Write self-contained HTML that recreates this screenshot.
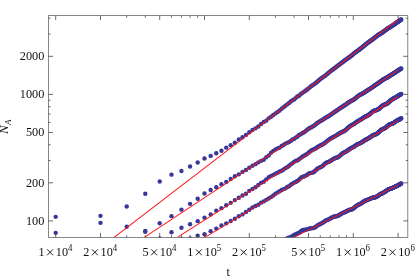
<!DOCTYPE html>
<html><head><meta charset="utf-8"><style>html,body{margin:0;padding:0;background:#fff}svg{display:block;will-change:transform}</style></head><body>
<svg width="415" height="278" viewBox="0 0 415 278">
<rect width="415" height="278" fill="#fff"/>
<defs><clipPath id="c"><rect x="48.5" y="15.6" width="359.3" height="221.8"/></clipPath></defs>
<g clip-path="url(#c)" fill="#37379a">
<circle cx="55.70" cy="216.85" r="2.2"/>
<circle cx="100.49" cy="215.85" r="2.2"/>
<circle cx="126.70" cy="206.55" r="2.2"/>
<circle cx="145.29" cy="193.75" r="2.2"/>
<circle cx="159.71" cy="181.45" r="2.2"/>
<circle cx="171.49" cy="174.65" r="2.2"/>
<circle cx="181.45" cy="171.05" r="2.2"/>
<circle cx="190.08" cy="166.55" r="2.2"/>
<circle cx="197.69" cy="162.55" r="2.2"/>
<circle cx="204.50" cy="158.45" r="2.2"/>
<circle cx="210.66" cy="155.91" r="2.2"/>
<circle cx="216.28" cy="153.19" r="2.2"/>
<circle cx="221.45" cy="150.74" r="2.2"/>
<circle cx="226.24" cy="147.65" r="2.2"/>
<circle cx="230.70" cy="145.15" r="2.2"/>
<circle cx="234.87" cy="142.70" r="2.2"/>
<circle cx="238.79" cy="139.51" r="2.2"/>
<circle cx="242.48" cy="137.20" r="2.2"/>
<circle cx="245.98" cy="134.89" r="2.2"/>
<circle cx="249.29" cy="132.28" r="2.2"/>
<circle cx="252.45" cy="130.05" r="2.2"/>
<circle cx="255.45" cy="128.35" r="2.2"/>
<circle cx="258.33" cy="126.46" r="2.2"/>
<circle cx="261.08" cy="123.97" r="2.2"/>
<circle cx="263.71" cy="121.94" r="2.2"/>
<circle cx="266.25" cy="120.64" r="2.2"/>
<circle cx="268.69" cy="118.36" r="2.2"/>
<circle cx="271.04" cy="116.78" r="2.2"/>
<circle cx="273.30" cy="115.06" r="2.2"/>
<circle cx="275.50" cy="113.38" r="2.2"/>
<circle cx="277.61" cy="111.96" r="2.2"/>
<circle cx="279.67" cy="110.47" r="2.2"/>
<circle cx="281.65" cy="108.77" r="2.2"/>
<circle cx="283.58" cy="107.31" r="2.2"/>
<circle cx="285.46" cy="105.82" r="2.2"/>
<circle cx="287.28" cy="104.37" r="2.2"/>
<circle cx="289.05" cy="102.96" r="2.2"/>
<circle cx="290.77" cy="101.51" r="2.2"/>
<circle cx="292.45" cy="100.20" r="2.2"/>
<circle cx="294.09" cy="99.39" r="2.2"/>
<circle cx="295.68" cy="98.08" r="2.2"/>
<circle cx="297.24" cy="96.57" r="2.2"/>
<circle cx="298.76" cy="96.02" r="2.2"/>
<circle cx="300.25" cy="94.57" r="2.2"/>
<circle cx="301.70" cy="93.41" r="2.2"/>
<circle cx="303.12" cy="92.35" r="2.2"/>
<circle cx="304.51" cy="91.40" r="2.2"/>
<circle cx="305.87" cy="90.47" r="2.2"/>
<circle cx="307.20" cy="89.48" r="2.2"/>
<circle cx="308.51" cy="88.42" r="2.2"/>
<circle cx="309.79" cy="87.33" r="2.2"/>
<circle cx="311.04" cy="86.31" r="2.2"/>
<circle cx="312.27" cy="85.40" r="2.2"/>
<circle cx="313.48" cy="84.59" r="2.2"/>
<circle cx="314.67" cy="83.80" r="2.2"/>
<circle cx="315.83" cy="82.96" r="2.2"/>
<circle cx="316.97" cy="82.03" r="2.2"/>
<circle cx="318.10" cy="81.03" r="2.2"/>
<circle cx="319.20" cy="80.04" r="2.2"/>
<circle cx="320.29" cy="79.11" r="2.2"/>
<circle cx="321.36" cy="78.29" r="2.2"/>
<circle cx="322.41" cy="77.56" r="2.2"/>
<circle cx="323.44" cy="76.87" r="2.2"/>
<circle cx="324.46" cy="76.16" r="2.2"/>
<circle cx="325.46" cy="75.40" r="2.2"/>
<circle cx="326.45" cy="74.58" r="2.2"/>
<circle cx="327.42" cy="73.73" r="2.2"/>
<circle cx="328.38" cy="72.90" r="2.2"/>
<circle cx="329.32" cy="72.10" r="2.2"/>
<circle cx="330.25" cy="71.37" r="2.2"/>
<circle cx="331.17" cy="70.69" r="2.2"/>
<circle cx="332.07" cy="70.04" r="2.2"/>
<circle cx="332.96" cy="69.41" r="2.2"/>
<circle cx="333.84" cy="68.78" r="2.2"/>
<circle cx="334.71" cy="68.12" r="2.2"/>
<circle cx="335.57" cy="67.46" r="2.2"/>
<circle cx="336.41" cy="66.79" r="2.2"/>
<circle cx="337.24" cy="66.13" r="2.2"/>
<circle cx="338.07" cy="65.50" r="2.2"/>
<circle cx="338.88" cy="64.89" r="2.2"/>
<circle cx="339.68" cy="64.30" r="2.2"/>
<circle cx="340.48" cy="63.72" r="2.2"/>
<circle cx="341.26" cy="63.14" r="2.2"/>
<circle cx="342.03" cy="62.56" r="2.2"/>
<circle cx="342.80" cy="61.97" r="2.2"/>
<circle cx="343.55" cy="61.39" r="2.2"/>
<circle cx="344.30" cy="60.81" r="2.2"/>
<circle cx="345.04" cy="60.24" r="2.2"/>
<circle cx="345.77" cy="59.69" r="2.2"/>
<circle cx="346.49" cy="59.17" r="2.2"/>
<circle cx="347.21" cy="58.67" r="2.2"/>
<circle cx="347.91" cy="58.18" r="2.2"/>
<circle cx="348.61" cy="57.70" r="2.2"/>
<circle cx="349.30" cy="57.22" r="2.2"/>
<circle cx="349.99" cy="56.72" r="2.2"/>
<circle cx="350.66" cy="56.21" r="2.2"/>
<circle cx="351.33" cy="55.68" r="2.2"/>
<circle cx="351.99" cy="55.15" r="2.2"/>
<circle cx="352.65" cy="54.60" r="2.2"/>
<circle cx="353.30" cy="54.07" r="2.2"/>
<circle cx="353.94" cy="53.54" r="2.2"/>
<circle cx="354.58" cy="53.03" r="2.2"/>
<circle cx="355.21" cy="52.54" r="2.2"/>
<circle cx="355.83" cy="52.07" r="2.2"/>
<circle cx="356.45" cy="51.62" r="2.2"/>
<circle cx="357.07" cy="51.18" r="2.2"/>
<circle cx="357.67" cy="50.75" r="2.2"/>
<circle cx="358.27" cy="50.33" r="2.2"/>
<circle cx="358.87" cy="49.90" r="2.2"/>
<circle cx="359.46" cy="49.46" r="2.2"/>
<circle cx="360.04" cy="49.02" r="2.2"/>
<circle cx="360.62" cy="48.57" r="2.2"/>
<circle cx="361.20" cy="48.11" r="2.2"/>
<circle cx="361.77" cy="47.65" r="2.2"/>
<circle cx="362.33" cy="47.18" r="2.2"/>
<circle cx="362.89" cy="46.72" r="2.2"/>
<circle cx="363.45" cy="46.25" r="2.2"/>
<circle cx="364.00" cy="45.79" r="2.2"/>
<circle cx="364.54" cy="45.34" r="2.2"/>
<circle cx="365.08" cy="44.89" r="2.2"/>
<circle cx="365.62" cy="44.46" r="2.2"/>
<circle cx="366.15" cy="44.03" r="2.2"/>
<circle cx="366.68" cy="43.61" r="2.2"/>
<circle cx="367.20" cy="43.21" r="2.2"/>
<circle cx="367.72" cy="42.81" r="2.2"/>
<circle cx="368.24" cy="42.43" r="2.2"/>
<circle cx="368.75" cy="42.06" r="2.2"/>
<circle cx="369.25" cy="41.69" r="2.2"/>
<circle cx="369.76" cy="41.34" r="2.2"/>
<circle cx="370.25" cy="40.99" r="2.2"/>
<circle cx="370.75" cy="40.64" r="2.2"/>
<circle cx="371.24" cy="40.30" r="2.2"/>
<circle cx="371.73" cy="39.95" r="2.2"/>
<circle cx="372.21" cy="39.60" r="2.2"/>
<circle cx="372.69" cy="39.24" r="2.2"/>
<circle cx="373.17" cy="38.88" r="2.2"/>
<circle cx="373.64" cy="38.52" r="2.2"/>
<circle cx="374.11" cy="38.15" r="2.2"/>
<circle cx="374.58" cy="37.77" r="2.2"/>
<circle cx="375.04" cy="37.40" r="2.2"/>
<circle cx="375.50" cy="37.03" r="2.2"/>
<circle cx="375.96" cy="36.66" r="2.2"/>
<circle cx="376.41" cy="36.31" r="2.2"/>
<circle cx="376.86" cy="35.96" r="2.2"/>
<circle cx="377.31" cy="35.63" r="2.2"/>
<circle cx="377.76" cy="35.31" r="2.2"/>
<circle cx="378.20" cy="35.00" r="2.2"/>
<circle cx="378.63" cy="34.72" r="2.2"/>
<circle cx="379.07" cy="34.44" r="2.2"/>
<circle cx="379.50" cy="34.18" r="2.2"/>
<circle cx="379.93" cy="33.92" r="2.2"/>
<circle cx="380.36" cy="33.67" r="2.2"/>
<circle cx="380.78" cy="33.42" r="2.2"/>
<circle cx="381.20" cy="33.17" r="2.2"/>
<circle cx="381.62" cy="32.92" r="2.2"/>
<circle cx="382.04" cy="32.66" r="2.2"/>
<circle cx="382.45" cy="32.39" r="2.2"/>
<circle cx="382.86" cy="32.11" r="2.2"/>
<circle cx="383.27" cy="31.82" r="2.2"/>
<circle cx="383.67" cy="31.52" r="2.2"/>
<circle cx="384.08" cy="31.22" r="2.2"/>
<circle cx="384.48" cy="30.91" r="2.2"/>
<circle cx="384.87" cy="30.60" r="2.2"/>
<circle cx="385.27" cy="30.29" r="2.2"/>
<circle cx="385.66" cy="29.98" r="2.2"/>
<circle cx="386.05" cy="29.68" r="2.2"/>
<circle cx="386.44" cy="29.39" r="2.2"/>
<circle cx="386.83" cy="29.10" r="2.2"/>
<circle cx="387.21" cy="28.83" r="2.2"/>
<circle cx="387.59" cy="28.57" r="2.2"/>
<circle cx="387.97" cy="28.32" r="2.2"/>
<circle cx="388.35" cy="28.09" r="2.2"/>
<circle cx="388.72" cy="27.86" r="2.2"/>
<circle cx="389.09" cy="27.64" r="2.2"/>
<circle cx="389.46" cy="27.42" r="2.2"/>
<circle cx="389.83" cy="27.21" r="2.2"/>
<circle cx="390.20" cy="27.00" r="2.2"/>
<circle cx="390.56" cy="26.79" r="2.2"/>
<circle cx="390.92" cy="26.58" r="2.2"/>
<circle cx="391.28" cy="26.36" r="2.2"/>
<circle cx="391.64" cy="26.13" r="2.2"/>
<circle cx="392.00" cy="25.90" r="2.2"/>
<circle cx="392.35" cy="25.66" r="2.2"/>
<circle cx="392.70" cy="25.41" r="2.2"/>
<circle cx="393.06" cy="25.16" r="2.2"/>
<circle cx="393.40" cy="24.91" r="2.2"/>
<circle cx="393.75" cy="24.65" r="2.2"/>
<circle cx="394.09" cy="24.40" r="2.2"/>
<circle cx="394.44" cy="24.15" r="2.2"/>
<circle cx="394.78" cy="23.91" r="2.2"/>
<circle cx="395.12" cy="23.66" r="2.2"/>
<circle cx="395.46" cy="23.42" r="2.2"/>
<circle cx="395.79" cy="23.19" r="2.2"/>
<circle cx="396.12" cy="22.96" r="2.2"/>
<circle cx="396.46" cy="22.73" r="2.2"/>
<circle cx="396.79" cy="22.51" r="2.2"/>
<circle cx="397.12" cy="22.29" r="2.2"/>
<circle cx="397.44" cy="22.07" r="2.2"/>
<circle cx="397.77" cy="21.86" r="2.2"/>
<circle cx="398.09" cy="21.64" r="2.2"/>
<circle cx="398.42" cy="21.43" r="2.2"/>
<circle cx="398.74" cy="21.22" r="2.2"/>
<circle cx="399.06" cy="21.01" r="2.2"/>
<circle cx="399.37" cy="20.80" r="2.2"/>
<circle cx="399.69" cy="20.58" r="2.2"/>
<circle cx="400.00" cy="20.37" r="2.2"/>
<circle cx="400.32" cy="20.16" r="2.2"/>
<circle cx="400.63" cy="19.95" r="2.2"/>
<circle cx="400.94" cy="19.74" r="2.2"/>
<circle cx="401.25" cy="19.51" r="2.2"/>
<circle cx="55.70" cy="232.85" r="2.2"/>
<circle cx="100.49" cy="222.85" r="2.2"/>
<circle cx="126.70" cy="226.75" r="2.2"/>
<circle cx="145.29" cy="231.05" r="2.2"/>
<circle cx="159.71" cy="223.25" r="2.2"/>
<circle cx="171.49" cy="216.15" r="2.2"/>
<circle cx="181.45" cy="209.65" r="2.2"/>
<circle cx="190.08" cy="203.85" r="2.2"/>
<circle cx="197.69" cy="198.75" r="2.2"/>
<circle cx="204.50" cy="193.45" r="2.2"/>
<circle cx="210.66" cy="189.98" r="2.2"/>
<circle cx="216.28" cy="187.23" r="2.2"/>
<circle cx="221.45" cy="184.20" r="2.2"/>
<circle cx="226.24" cy="181.90" r="2.2"/>
<circle cx="230.70" cy="178.90" r="2.2"/>
<circle cx="234.87" cy="176.28" r="2.2"/>
<circle cx="238.79" cy="174.36" r="2.2"/>
<circle cx="242.48" cy="171.88" r="2.2"/>
<circle cx="245.98" cy="170.03" r="2.2"/>
<circle cx="249.29" cy="167.69" r="2.2"/>
<circle cx="252.45" cy="165.78" r="2.2"/>
<circle cx="255.45" cy="164.17" r="2.2"/>
<circle cx="258.33" cy="162.37" r="2.2"/>
<circle cx="261.08" cy="160.83" r="2.2"/>
<circle cx="263.71" cy="159.75" r="2.2"/>
<circle cx="266.25" cy="157.28" r="2.2"/>
<circle cx="268.69" cy="155.40" r="2.2"/>
<circle cx="271.04" cy="152.81" r="2.2"/>
<circle cx="273.30" cy="150.83" r="2.2"/>
<circle cx="275.50" cy="149.49" r="2.2"/>
<circle cx="277.61" cy="148.42" r="2.2"/>
<circle cx="279.67" cy="147.60" r="2.2"/>
<circle cx="281.65" cy="145.95" r="2.2"/>
<circle cx="283.58" cy="144.94" r="2.2"/>
<circle cx="285.46" cy="143.59" r="2.2"/>
<circle cx="287.28" cy="142.87" r="2.2"/>
<circle cx="289.05" cy="142.00" r="2.2"/>
<circle cx="290.77" cy="140.89" r="2.2"/>
<circle cx="292.45" cy="139.49" r="2.2"/>
<circle cx="294.09" cy="138.89" r="2.2"/>
<circle cx="295.68" cy="137.59" r="2.2"/>
<circle cx="297.24" cy="136.70" r="2.2"/>
<circle cx="298.76" cy="135.32" r="2.2"/>
<circle cx="300.25" cy="134.38" r="2.2"/>
<circle cx="301.70" cy="133.58" r="2.2"/>
<circle cx="303.12" cy="132.80" r="2.2"/>
<circle cx="304.51" cy="131.89" r="2.2"/>
<circle cx="305.87" cy="130.84" r="2.2"/>
<circle cx="307.20" cy="129.75" r="2.2"/>
<circle cx="308.51" cy="128.79" r="2.2"/>
<circle cx="309.79" cy="128.02" r="2.2"/>
<circle cx="311.04" cy="127.39" r="2.2"/>
<circle cx="312.27" cy="126.76" r="2.2"/>
<circle cx="313.48" cy="126.02" r="2.2"/>
<circle cx="314.67" cy="125.15" r="2.2"/>
<circle cx="315.83" cy="124.20" r="2.2"/>
<circle cx="316.97" cy="123.29" r="2.2"/>
<circle cx="318.10" cy="122.47" r="2.2"/>
<circle cx="319.20" cy="121.77" r="2.2"/>
<circle cx="320.29" cy="121.14" r="2.2"/>
<circle cx="321.36" cy="120.52" r="2.2"/>
<circle cx="322.41" cy="119.88" r="2.2"/>
<circle cx="323.44" cy="119.21" r="2.2"/>
<circle cx="324.46" cy="118.53" r="2.2"/>
<circle cx="325.46" cy="117.89" r="2.2"/>
<circle cx="326.45" cy="117.30" r="2.2"/>
<circle cx="327.42" cy="116.74" r="2.2"/>
<circle cx="328.38" cy="116.19" r="2.2"/>
<circle cx="329.32" cy="115.63" r="2.2"/>
<circle cx="330.25" cy="115.04" r="2.2"/>
<circle cx="331.17" cy="114.41" r="2.2"/>
<circle cx="332.07" cy="113.76" r="2.2"/>
<circle cx="332.96" cy="113.11" r="2.2"/>
<circle cx="333.84" cy="112.49" r="2.2"/>
<circle cx="334.71" cy="111.89" r="2.2"/>
<circle cx="335.57" cy="111.31" r="2.2"/>
<circle cx="336.41" cy="110.75" r="2.2"/>
<circle cx="337.24" cy="110.18" r="2.2"/>
<circle cx="338.07" cy="109.61" r="2.2"/>
<circle cx="338.88" cy="109.03" r="2.2"/>
<circle cx="339.68" cy="108.46" r="2.2"/>
<circle cx="340.48" cy="107.91" r="2.2"/>
<circle cx="341.26" cy="107.38" r="2.2"/>
<circle cx="342.03" cy="106.89" r="2.2"/>
<circle cx="342.80" cy="106.43" r="2.2"/>
<circle cx="343.55" cy="105.98" r="2.2"/>
<circle cx="344.30" cy="105.53" r="2.2"/>
<circle cx="345.04" cy="105.07" r="2.2"/>
<circle cx="345.77" cy="104.58" r="2.2"/>
<circle cx="346.49" cy="104.07" r="2.2"/>
<circle cx="347.21" cy="103.55" r="2.2"/>
<circle cx="347.91" cy="103.02" r="2.2"/>
<circle cx="348.61" cy="102.52" r="2.2"/>
<circle cx="349.30" cy="102.05" r="2.2"/>
<circle cx="349.99" cy="101.61" r="2.2"/>
<circle cx="350.66" cy="101.22" r="2.2"/>
<circle cx="351.33" cy="100.86" r="2.2"/>
<circle cx="351.99" cy="100.51" r="2.2"/>
<circle cx="352.65" cy="100.16" r="2.2"/>
<circle cx="353.30" cy="99.78" r="2.2"/>
<circle cx="353.94" cy="99.38" r="2.2"/>
<circle cx="354.58" cy="98.93" r="2.2"/>
<circle cx="355.21" cy="98.44" r="2.2"/>
<circle cx="355.83" cy="97.92" r="2.2"/>
<circle cx="356.45" cy="97.39" r="2.2"/>
<circle cx="357.07" cy="96.87" r="2.2"/>
<circle cx="357.67" cy="96.37" r="2.2"/>
<circle cx="358.27" cy="95.90" r="2.2"/>
<circle cx="358.87" cy="95.47" r="2.2"/>
<circle cx="359.46" cy="95.09" r="2.2"/>
<circle cx="360.04" cy="94.76" r="2.2"/>
<circle cx="360.62" cy="94.45" r="2.2"/>
<circle cx="361.20" cy="94.16" r="2.2"/>
<circle cx="361.77" cy="93.89" r="2.2"/>
<circle cx="362.33" cy="93.60" r="2.2"/>
<circle cx="362.89" cy="93.31" r="2.2"/>
<circle cx="363.45" cy="93.00" r="2.2"/>
<circle cx="364.00" cy="92.66" r="2.2"/>
<circle cx="364.54" cy="92.31" r="2.2"/>
<circle cx="365.08" cy="91.95" r="2.2"/>
<circle cx="365.62" cy="91.58" r="2.2"/>
<circle cx="366.15" cy="91.22" r="2.2"/>
<circle cx="366.68" cy="90.85" r="2.2"/>
<circle cx="367.20" cy="90.50" r="2.2"/>
<circle cx="367.72" cy="90.17" r="2.2"/>
<circle cx="368.24" cy="89.84" r="2.2"/>
<circle cx="368.75" cy="89.53" r="2.2"/>
<circle cx="369.25" cy="89.22" r="2.2"/>
<circle cx="369.76" cy="88.92" r="2.2"/>
<circle cx="370.25" cy="88.62" r="2.2"/>
<circle cx="370.75" cy="88.31" r="2.2"/>
<circle cx="371.24" cy="87.99" r="2.2"/>
<circle cx="371.73" cy="87.67" r="2.2"/>
<circle cx="372.21" cy="87.34" r="2.2"/>
<circle cx="372.69" cy="87.00" r="2.2"/>
<circle cx="373.17" cy="86.66" r="2.2"/>
<circle cx="373.64" cy="86.32" r="2.2"/>
<circle cx="374.11" cy="85.98" r="2.2"/>
<circle cx="374.58" cy="85.64" r="2.2"/>
<circle cx="375.04" cy="85.31" r="2.2"/>
<circle cx="375.50" cy="84.99" r="2.2"/>
<circle cx="375.96" cy="84.68" r="2.2"/>
<circle cx="376.41" cy="84.37" r="2.2"/>
<circle cx="376.86" cy="84.07" r="2.2"/>
<circle cx="377.31" cy="83.77" r="2.2"/>
<circle cx="377.76" cy="83.47" r="2.2"/>
<circle cx="378.20" cy="83.17" r="2.2"/>
<circle cx="378.63" cy="82.87" r="2.2"/>
<circle cx="379.07" cy="82.56" r="2.2"/>
<circle cx="379.50" cy="82.25" r="2.2"/>
<circle cx="379.93" cy="81.93" r="2.2"/>
<circle cx="380.36" cy="81.61" r="2.2"/>
<circle cx="380.78" cy="81.30" r="2.2"/>
<circle cx="381.20" cy="80.98" r="2.2"/>
<circle cx="381.62" cy="80.68" r="2.2"/>
<circle cx="382.04" cy="80.38" r="2.2"/>
<circle cx="382.45" cy="80.09" r="2.2"/>
<circle cx="382.86" cy="79.81" r="2.2"/>
<circle cx="383.27" cy="79.55" r="2.2"/>
<circle cx="383.67" cy="79.30" r="2.2"/>
<circle cx="384.08" cy="79.06" r="2.2"/>
<circle cx="384.48" cy="78.83" r="2.2"/>
<circle cx="384.87" cy="78.61" r="2.2"/>
<circle cx="385.27" cy="78.41" r="2.2"/>
<circle cx="385.66" cy="78.21" r="2.2"/>
<circle cx="386.05" cy="78.01" r="2.2"/>
<circle cx="386.44" cy="77.81" r="2.2"/>
<circle cx="386.83" cy="77.61" r="2.2"/>
<circle cx="387.21" cy="77.40" r="2.2"/>
<circle cx="387.59" cy="77.18" r="2.2"/>
<circle cx="387.97" cy="76.96" r="2.2"/>
<circle cx="388.35" cy="76.73" r="2.2"/>
<circle cx="388.72" cy="76.49" r="2.2"/>
<circle cx="389.09" cy="76.25" r="2.2"/>
<circle cx="389.46" cy="76.01" r="2.2"/>
<circle cx="389.83" cy="75.77" r="2.2"/>
<circle cx="390.20" cy="75.53" r="2.2"/>
<circle cx="390.56" cy="75.30" r="2.2"/>
<circle cx="390.92" cy="75.06" r="2.2"/>
<circle cx="391.28" cy="74.84" r="2.2"/>
<circle cx="391.64" cy="74.61" r="2.2"/>
<circle cx="392.00" cy="74.40" r="2.2"/>
<circle cx="392.35" cy="74.18" r="2.2"/>
<circle cx="392.70" cy="73.97" r="2.2"/>
<circle cx="393.06" cy="73.76" r="2.2"/>
<circle cx="393.40" cy="73.55" r="2.2"/>
<circle cx="393.75" cy="73.33" r="2.2"/>
<circle cx="394.09" cy="73.12" r="2.2"/>
<circle cx="394.44" cy="72.90" r="2.2"/>
<circle cx="394.78" cy="72.68" r="2.2"/>
<circle cx="395.12" cy="72.46" r="2.2"/>
<circle cx="395.46" cy="72.23" r="2.2"/>
<circle cx="395.79" cy="72.01" r="2.2"/>
<circle cx="396.12" cy="71.78" r="2.2"/>
<circle cx="396.46" cy="71.55" r="2.2"/>
<circle cx="396.79" cy="71.33" r="2.2"/>
<circle cx="397.12" cy="71.10" r="2.2"/>
<circle cx="397.44" cy="70.87" r="2.2"/>
<circle cx="397.77" cy="70.65" r="2.2"/>
<circle cx="398.09" cy="70.43" r="2.2"/>
<circle cx="398.42" cy="70.21" r="2.2"/>
<circle cx="398.74" cy="70.00" r="2.2"/>
<circle cx="399.06" cy="69.80" r="2.2"/>
<circle cx="399.37" cy="69.60" r="2.2"/>
<circle cx="399.69" cy="69.41" r="2.2"/>
<circle cx="400.00" cy="69.21" r="2.2"/>
<circle cx="400.32" cy="69.02" r="2.2"/>
<circle cx="400.63" cy="68.83" r="2.2"/>
<circle cx="400.94" cy="68.64" r="2.2"/>
<circle cx="401.25" cy="68.45" r="2.2"/>
<circle cx="126.70" cy="239.75" r="2.2"/>
<circle cx="145.29" cy="231.85" r="2.2"/>
<circle cx="159.71" cy="238.35" r="2.2"/>
<circle cx="171.49" cy="232.25" r="2.2"/>
<circle cx="181.45" cy="227.75" r="2.2"/>
<circle cx="190.08" cy="224.25" r="2.2"/>
<circle cx="197.69" cy="221.15" r="2.2"/>
<circle cx="204.50" cy="217.65" r="2.2"/>
<circle cx="210.66" cy="214.40" r="2.2"/>
<circle cx="216.28" cy="210.64" r="2.2"/>
<circle cx="221.45" cy="208.15" r="2.2"/>
<circle cx="226.24" cy="205.21" r="2.2"/>
<circle cx="230.70" cy="202.83" r="2.2"/>
<circle cx="234.87" cy="200.12" r="2.2"/>
<circle cx="238.79" cy="197.79" r="2.2"/>
<circle cx="242.48" cy="195.53" r="2.2"/>
<circle cx="245.98" cy="193.69" r="2.2"/>
<circle cx="249.29" cy="190.83" r="2.2"/>
<circle cx="252.45" cy="189.02" r="2.2"/>
<circle cx="255.45" cy="187.19" r="2.2"/>
<circle cx="258.33" cy="185.07" r="2.2"/>
<circle cx="261.08" cy="182.85" r="2.2"/>
<circle cx="263.71" cy="181.68" r="2.2"/>
<circle cx="266.25" cy="179.41" r="2.2"/>
<circle cx="268.69" cy="177.25" r="2.2"/>
<circle cx="271.04" cy="175.88" r="2.2"/>
<circle cx="273.30" cy="174.91" r="2.2"/>
<circle cx="275.50" cy="173.67" r="2.2"/>
<circle cx="277.61" cy="172.72" r="2.2"/>
<circle cx="279.67" cy="171.44" r="2.2"/>
<circle cx="281.65" cy="170.68" r="2.2"/>
<circle cx="283.58" cy="169.43" r="2.2"/>
<circle cx="285.46" cy="168.17" r="2.2"/>
<circle cx="287.28" cy="167.13" r="2.2"/>
<circle cx="289.05" cy="165.74" r="2.2"/>
<circle cx="290.77" cy="164.42" r="2.2"/>
<circle cx="292.45" cy="163.15" r="2.2"/>
<circle cx="294.09" cy="161.85" r="2.2"/>
<circle cx="295.68" cy="160.90" r="2.2"/>
<circle cx="297.24" cy="160.51" r="2.2"/>
<circle cx="298.76" cy="159.57" r="2.2"/>
<circle cx="300.25" cy="158.35" r="2.2"/>
<circle cx="301.70" cy="157.18" r="2.2"/>
<circle cx="303.12" cy="156.27" r="2.2"/>
<circle cx="304.51" cy="155.56" r="2.2"/>
<circle cx="305.87" cy="154.81" r="2.2"/>
<circle cx="307.20" cy="153.87" r="2.2"/>
<circle cx="308.51" cy="152.75" r="2.2"/>
<circle cx="309.79" cy="151.66" r="2.2"/>
<circle cx="311.04" cy="150.76" r="2.2"/>
<circle cx="312.27" cy="150.07" r="2.2"/>
<circle cx="313.48" cy="149.50" r="2.2"/>
<circle cx="314.67" cy="148.91" r="2.2"/>
<circle cx="315.83" cy="148.23" r="2.2"/>
<circle cx="316.97" cy="147.47" r="2.2"/>
<circle cx="318.10" cy="146.72" r="2.2"/>
<circle cx="319.20" cy="146.06" r="2.2"/>
<circle cx="320.29" cy="145.49" r="2.2"/>
<circle cx="321.36" cy="144.98" r="2.2"/>
<circle cx="322.41" cy="144.45" r="2.2"/>
<circle cx="323.44" cy="143.84" r="2.2"/>
<circle cx="324.46" cy="143.15" r="2.2"/>
<circle cx="325.46" cy="142.38" r="2.2"/>
<circle cx="326.45" cy="141.59" r="2.2"/>
<circle cx="327.42" cy="140.81" r="2.2"/>
<circle cx="328.38" cy="140.09" r="2.2"/>
<circle cx="329.32" cy="139.42" r="2.2"/>
<circle cx="330.25" cy="138.82" r="2.2"/>
<circle cx="331.17" cy="138.27" r="2.2"/>
<circle cx="332.07" cy="137.76" r="2.2"/>
<circle cx="332.96" cy="137.28" r="2.2"/>
<circle cx="333.84" cy="136.81" r="2.2"/>
<circle cx="334.71" cy="136.34" r="2.2"/>
<circle cx="335.57" cy="135.85" r="2.2"/>
<circle cx="336.41" cy="135.33" r="2.2"/>
<circle cx="337.24" cy="134.80" r="2.2"/>
<circle cx="338.07" cy="134.26" r="2.2"/>
<circle cx="338.88" cy="133.73" r="2.2"/>
<circle cx="339.68" cy="133.24" r="2.2"/>
<circle cx="340.48" cy="132.79" r="2.2"/>
<circle cx="341.26" cy="132.40" r="2.2"/>
<circle cx="342.03" cy="132.04" r="2.2"/>
<circle cx="342.80" cy="131.69" r="2.2"/>
<circle cx="343.55" cy="131.32" r="2.2"/>
<circle cx="344.30" cy="130.90" r="2.2"/>
<circle cx="345.04" cy="130.41" r="2.2"/>
<circle cx="345.77" cy="129.84" r="2.2"/>
<circle cx="346.49" cy="129.22" r="2.2"/>
<circle cx="347.21" cy="128.57" r="2.2"/>
<circle cx="347.91" cy="127.92" r="2.2"/>
<circle cx="348.61" cy="127.30" r="2.2"/>
<circle cx="349.30" cy="126.73" r="2.2"/>
<circle cx="349.99" cy="126.22" r="2.2"/>
<circle cx="350.66" cy="125.77" r="2.2"/>
<circle cx="351.33" cy="125.36" r="2.2"/>
<circle cx="351.99" cy="124.99" r="2.2"/>
<circle cx="352.65" cy="124.62" r="2.2"/>
<circle cx="353.30" cy="124.24" r="2.2"/>
<circle cx="353.94" cy="123.84" r="2.2"/>
<circle cx="354.58" cy="123.42" r="2.2"/>
<circle cx="355.21" cy="122.99" r="2.2"/>
<circle cx="355.83" cy="122.55" r="2.2"/>
<circle cx="356.45" cy="122.12" r="2.2"/>
<circle cx="357.07" cy="121.70" r="2.2"/>
<circle cx="357.67" cy="121.31" r="2.2"/>
<circle cx="358.27" cy="120.94" r="2.2"/>
<circle cx="358.87" cy="120.59" r="2.2"/>
<circle cx="359.46" cy="120.25" r="2.2"/>
<circle cx="360.04" cy="119.92" r="2.2"/>
<circle cx="360.62" cy="119.58" r="2.2"/>
<circle cx="361.20" cy="119.22" r="2.2"/>
<circle cx="361.77" cy="118.86" r="2.2"/>
<circle cx="362.33" cy="118.48" r="2.2"/>
<circle cx="362.89" cy="118.11" r="2.2"/>
<circle cx="363.45" cy="117.73" r="2.2"/>
<circle cx="364.00" cy="117.38" r="2.2"/>
<circle cx="364.54" cy="117.04" r="2.2"/>
<circle cx="365.08" cy="116.73" r="2.2"/>
<circle cx="365.62" cy="116.45" r="2.2"/>
<circle cx="366.15" cy="116.18" r="2.2"/>
<circle cx="366.68" cy="115.93" r="2.2"/>
<circle cx="367.20" cy="115.68" r="2.2"/>
<circle cx="367.72" cy="115.41" r="2.2"/>
<circle cx="368.24" cy="115.13" r="2.2"/>
<circle cx="368.75" cy="114.81" r="2.2"/>
<circle cx="369.25" cy="114.45" r="2.2"/>
<circle cx="369.76" cy="114.06" r="2.2"/>
<circle cx="370.25" cy="113.65" r="2.2"/>
<circle cx="370.75" cy="113.21" r="2.2"/>
<circle cx="371.24" cy="112.78" r="2.2"/>
<circle cx="371.73" cy="112.35" r="2.2"/>
<circle cx="372.21" cy="111.95" r="2.2"/>
<circle cx="372.69" cy="111.58" r="2.2"/>
<circle cx="373.17" cy="111.26" r="2.2"/>
<circle cx="373.64" cy="110.99" r="2.2"/>
<circle cx="374.11" cy="110.77" r="2.2"/>
<circle cx="374.58" cy="110.59" r="2.2"/>
<circle cx="375.04" cy="110.45" r="2.2"/>
<circle cx="375.50" cy="110.33" r="2.2"/>
<circle cx="375.96" cy="110.21" r="2.2"/>
<circle cx="376.41" cy="110.09" r="2.2"/>
<circle cx="376.86" cy="109.95" r="2.2"/>
<circle cx="377.31" cy="109.78" r="2.2"/>
<circle cx="377.76" cy="109.57" r="2.2"/>
<circle cx="378.20" cy="109.31" r="2.2"/>
<circle cx="378.63" cy="109.02" r="2.2"/>
<circle cx="379.07" cy="108.68" r="2.2"/>
<circle cx="379.50" cy="108.31" r="2.2"/>
<circle cx="379.93" cy="107.92" r="2.2"/>
<circle cx="380.36" cy="107.52" r="2.2"/>
<circle cx="380.78" cy="107.12" r="2.2"/>
<circle cx="381.20" cy="106.74" r="2.2"/>
<circle cx="381.62" cy="106.37" r="2.2"/>
<circle cx="382.04" cy="106.04" r="2.2"/>
<circle cx="382.45" cy="105.73" r="2.2"/>
<circle cx="382.86" cy="105.47" r="2.2"/>
<circle cx="383.27" cy="105.23" r="2.2"/>
<circle cx="383.67" cy="105.03" r="2.2"/>
<circle cx="384.08" cy="104.85" r="2.2"/>
<circle cx="384.48" cy="104.69" r="2.2"/>
<circle cx="384.87" cy="104.53" r="2.2"/>
<circle cx="385.27" cy="104.38" r="2.2"/>
<circle cx="385.66" cy="104.22" r="2.2"/>
<circle cx="386.05" cy="104.05" r="2.2"/>
<circle cx="386.44" cy="103.85" r="2.2"/>
<circle cx="386.83" cy="103.64" r="2.2"/>
<circle cx="387.21" cy="103.40" r="2.2"/>
<circle cx="387.59" cy="103.13" r="2.2"/>
<circle cx="387.97" cy="102.85" r="2.2"/>
<circle cx="388.35" cy="102.54" r="2.2"/>
<circle cx="388.72" cy="102.22" r="2.2"/>
<circle cx="389.09" cy="101.89" r="2.2"/>
<circle cx="389.46" cy="101.56" r="2.2"/>
<circle cx="389.83" cy="101.22" r="2.2"/>
<circle cx="390.20" cy="100.89" r="2.2"/>
<circle cx="390.56" cy="100.57" r="2.2"/>
<circle cx="390.92" cy="100.26" r="2.2"/>
<circle cx="391.28" cy="99.97" r="2.2"/>
<circle cx="391.64" cy="99.70" r="2.2"/>
<circle cx="392.00" cy="99.45" r="2.2"/>
<circle cx="392.35" cy="99.22" r="2.2"/>
<circle cx="392.70" cy="99.01" r="2.2"/>
<circle cx="393.06" cy="98.80" r="2.2"/>
<circle cx="393.40" cy="98.61" r="2.2"/>
<circle cx="393.75" cy="98.42" r="2.2"/>
<circle cx="394.09" cy="98.23" r="2.2"/>
<circle cx="394.44" cy="98.05" r="2.2"/>
<circle cx="394.78" cy="97.86" r="2.2"/>
<circle cx="395.12" cy="97.68" r="2.2"/>
<circle cx="395.46" cy="97.49" r="2.2"/>
<circle cx="395.79" cy="97.30" r="2.2"/>
<circle cx="396.12" cy="97.11" r="2.2"/>
<circle cx="396.46" cy="96.91" r="2.2"/>
<circle cx="396.79" cy="96.71" r="2.2"/>
<circle cx="397.12" cy="96.51" r="2.2"/>
<circle cx="397.44" cy="96.31" r="2.2"/>
<circle cx="397.77" cy="96.11" r="2.2"/>
<circle cx="398.09" cy="95.90" r="2.2"/>
<circle cx="398.42" cy="95.70" r="2.2"/>
<circle cx="398.74" cy="95.49" r="2.2"/>
<circle cx="399.06" cy="95.29" r="2.2"/>
<circle cx="399.37" cy="95.08" r="2.2"/>
<circle cx="399.69" cy="94.88" r="2.2"/>
<circle cx="400.00" cy="94.68" r="2.2"/>
<circle cx="400.32" cy="94.48" r="2.2"/>
<circle cx="400.63" cy="94.28" r="2.2"/>
<circle cx="400.94" cy="94.08" r="2.2"/>
<circle cx="401.25" cy="93.88" r="2.2"/>
<circle cx="181.45" cy="238.95" r="2.2"/>
<circle cx="190.08" cy="238.45" r="2.2"/>
<circle cx="197.69" cy="235.75" r="2.2"/>
<circle cx="204.50" cy="234.25" r="2.2"/>
<circle cx="210.66" cy="231.17" r="2.2"/>
<circle cx="216.28" cy="228.58" r="2.2"/>
<circle cx="221.45" cy="225.53" r="2.2"/>
<circle cx="226.24" cy="223.37" r="2.2"/>
<circle cx="230.70" cy="221.07" r="2.2"/>
<circle cx="234.87" cy="218.77" r="2.2"/>
<circle cx="238.79" cy="216.19" r="2.2"/>
<circle cx="242.48" cy="214.41" r="2.2"/>
<circle cx="245.98" cy="212.03" r="2.2"/>
<circle cx="249.29" cy="209.74" r="2.2"/>
<circle cx="252.45" cy="207.55" r="2.2"/>
<circle cx="255.45" cy="206.02" r="2.2"/>
<circle cx="258.33" cy="204.74" r="2.2"/>
<circle cx="261.08" cy="202.67" r="2.2"/>
<circle cx="263.71" cy="201.42" r="2.2"/>
<circle cx="266.25" cy="199.83" r="2.2"/>
<circle cx="268.69" cy="198.49" r="2.2"/>
<circle cx="271.04" cy="197.10" r="2.2"/>
<circle cx="273.30" cy="195.57" r="2.2"/>
<circle cx="275.50" cy="193.82" r="2.2"/>
<circle cx="277.61" cy="192.42" r="2.2"/>
<circle cx="279.67" cy="191.30" r="2.2"/>
<circle cx="281.65" cy="190.03" r="2.2"/>
<circle cx="283.58" cy="189.11" r="2.2"/>
<circle cx="285.46" cy="188.33" r="2.2"/>
<circle cx="287.28" cy="186.93" r="2.2"/>
<circle cx="289.05" cy="186.19" r="2.2"/>
<circle cx="290.77" cy="184.76" r="2.2"/>
<circle cx="292.45" cy="183.80" r="2.2"/>
<circle cx="294.09" cy="182.62" r="2.2"/>
<circle cx="295.68" cy="181.95" r="2.2"/>
<circle cx="297.24" cy="180.94" r="2.2"/>
<circle cx="298.76" cy="180.03" r="2.2"/>
<circle cx="300.25" cy="178.41" r="2.2"/>
<circle cx="301.70" cy="177.32" r="2.2"/>
<circle cx="303.12" cy="176.70" r="2.2"/>
<circle cx="304.51" cy="176.25" r="2.2"/>
<circle cx="305.87" cy="175.61" r="2.2"/>
<circle cx="307.20" cy="174.71" r="2.2"/>
<circle cx="308.51" cy="173.80" r="2.2"/>
<circle cx="309.79" cy="173.17" r="2.2"/>
<circle cx="311.04" cy="172.86" r="2.2"/>
<circle cx="312.27" cy="172.63" r="2.2"/>
<circle cx="313.48" cy="172.15" r="2.2"/>
<circle cx="314.67" cy="171.28" r="2.2"/>
<circle cx="315.83" cy="170.15" r="2.2"/>
<circle cx="316.97" cy="169.04" r="2.2"/>
<circle cx="318.10" cy="168.20" r="2.2"/>
<circle cx="319.20" cy="167.66" r="2.2"/>
<circle cx="320.29" cy="167.28" r="2.2"/>
<circle cx="321.36" cy="166.81" r="2.2"/>
<circle cx="322.41" cy="166.12" r="2.2"/>
<circle cx="323.44" cy="165.20" r="2.2"/>
<circle cx="324.46" cy="164.20" r="2.2"/>
<circle cx="325.46" cy="163.31" r="2.2"/>
<circle cx="326.45" cy="162.64" r="2.2"/>
<circle cx="327.42" cy="162.21" r="2.2"/>
<circle cx="328.38" cy="161.90" r="2.2"/>
<circle cx="329.32" cy="161.57" r="2.2"/>
<circle cx="330.25" cy="161.12" r="2.2"/>
<circle cx="331.17" cy="160.53" r="2.2"/>
<circle cx="332.07" cy="159.85" r="2.2"/>
<circle cx="332.96" cy="159.20" r="2.2"/>
<circle cx="333.84" cy="158.65" r="2.2"/>
<circle cx="334.71" cy="158.25" r="2.2"/>
<circle cx="335.57" cy="157.98" r="2.2"/>
<circle cx="336.41" cy="157.76" r="2.2"/>
<circle cx="337.24" cy="157.48" r="2.2"/>
<circle cx="338.07" cy="157.09" r="2.2"/>
<circle cx="338.88" cy="156.54" r="2.2"/>
<circle cx="339.68" cy="155.87" r="2.2"/>
<circle cx="340.48" cy="155.14" r="2.2"/>
<circle cx="341.26" cy="154.42" r="2.2"/>
<circle cx="342.03" cy="153.77" r="2.2"/>
<circle cx="342.80" cy="153.23" r="2.2"/>
<circle cx="343.55" cy="152.78" r="2.2"/>
<circle cx="344.30" cy="152.41" r="2.2"/>
<circle cx="345.04" cy="152.05" r="2.2"/>
<circle cx="345.77" cy="151.68" r="2.2"/>
<circle cx="346.49" cy="151.25" r="2.2"/>
<circle cx="347.21" cy="150.77" r="2.2"/>
<circle cx="347.91" cy="150.25" r="2.2"/>
<circle cx="348.61" cy="149.72" r="2.2"/>
<circle cx="349.30" cy="149.22" r="2.2"/>
<circle cx="349.99" cy="148.76" r="2.2"/>
<circle cx="350.66" cy="148.35" r="2.2"/>
<circle cx="351.33" cy="147.99" r="2.2"/>
<circle cx="351.99" cy="147.66" r="2.2"/>
<circle cx="352.65" cy="147.34" r="2.2"/>
<circle cx="353.30" cy="147.00" r="2.2"/>
<circle cx="353.94" cy="146.63" r="2.2"/>
<circle cx="354.58" cy="146.23" r="2.2"/>
<circle cx="355.21" cy="145.80" r="2.2"/>
<circle cx="355.83" cy="145.37" r="2.2"/>
<circle cx="356.45" cy="144.94" r="2.2"/>
<circle cx="357.07" cy="144.55" r="2.2"/>
<circle cx="357.67" cy="144.20" r="2.2"/>
<circle cx="358.27" cy="143.90" r="2.2"/>
<circle cx="358.87" cy="143.63" r="2.2"/>
<circle cx="359.46" cy="143.38" r="2.2"/>
<circle cx="360.04" cy="143.14" r="2.2"/>
<circle cx="360.62" cy="142.88" r="2.2"/>
<circle cx="361.20" cy="142.61" r="2.2"/>
<circle cx="361.77" cy="142.29" r="2.2"/>
<circle cx="362.33" cy="141.95" r="2.2"/>
<circle cx="362.89" cy="141.57" r="2.2"/>
<circle cx="363.45" cy="141.18" r="2.2"/>
<circle cx="364.00" cy="140.80" r="2.2"/>
<circle cx="364.54" cy="140.42" r="2.2"/>
<circle cx="365.08" cy="140.07" r="2.2"/>
<circle cx="365.62" cy="139.75" r="2.2"/>
<circle cx="366.15" cy="139.45" r="2.2"/>
<circle cx="366.68" cy="139.18" r="2.2"/>
<circle cx="367.20" cy="138.93" r="2.2"/>
<circle cx="367.72" cy="138.67" r="2.2"/>
<circle cx="368.24" cy="138.41" r="2.2"/>
<circle cx="368.75" cy="138.12" r="2.2"/>
<circle cx="369.25" cy="137.82" r="2.2"/>
<circle cx="369.76" cy="137.49" r="2.2"/>
<circle cx="370.25" cy="137.14" r="2.2"/>
<circle cx="370.75" cy="136.79" r="2.2"/>
<circle cx="371.24" cy="136.44" r="2.2"/>
<circle cx="371.73" cy="136.10" r="2.2"/>
<circle cx="372.21" cy="135.79" r="2.2"/>
<circle cx="372.69" cy="135.51" r="2.2"/>
<circle cx="373.17" cy="135.26" r="2.2"/>
<circle cx="373.64" cy="135.05" r="2.2"/>
<circle cx="374.11" cy="134.86" r="2.2"/>
<circle cx="374.58" cy="134.69" r="2.2"/>
<circle cx="375.04" cy="134.53" r="2.2"/>
<circle cx="375.50" cy="134.36" r="2.2"/>
<circle cx="375.96" cy="134.16" r="2.2"/>
<circle cx="376.41" cy="133.94" r="2.2"/>
<circle cx="376.86" cy="133.67" r="2.2"/>
<circle cx="377.31" cy="133.36" r="2.2"/>
<circle cx="377.76" cy="133.02" r="2.2"/>
<circle cx="378.20" cy="132.63" r="2.2"/>
<circle cx="378.63" cy="132.23" r="2.2"/>
<circle cx="379.07" cy="131.81" r="2.2"/>
<circle cx="379.50" cy="131.39" r="2.2"/>
<circle cx="379.93" cy="130.99" r="2.2"/>
<circle cx="380.36" cy="130.61" r="2.2"/>
<circle cx="380.78" cy="130.26" r="2.2"/>
<circle cx="381.20" cy="129.96" r="2.2"/>
<circle cx="381.62" cy="129.69" r="2.2"/>
<circle cx="382.04" cy="129.46" r="2.2"/>
<circle cx="382.45" cy="129.25" r="2.2"/>
<circle cx="382.86" cy="129.08" r="2.2"/>
<circle cx="383.27" cy="128.91" r="2.2"/>
<circle cx="383.67" cy="128.74" r="2.2"/>
<circle cx="384.08" cy="128.56" r="2.2"/>
<circle cx="384.48" cy="128.36" r="2.2"/>
<circle cx="384.87" cy="128.14" r="2.2"/>
<circle cx="385.27" cy="127.89" r="2.2"/>
<circle cx="385.66" cy="127.61" r="2.2"/>
<circle cx="386.05" cy="127.31" r="2.2"/>
<circle cx="386.44" cy="126.98" r="2.2"/>
<circle cx="386.83" cy="126.64" r="2.2"/>
<circle cx="387.21" cy="126.29" r="2.2"/>
<circle cx="387.59" cy="125.95" r="2.2"/>
<circle cx="387.97" cy="125.62" r="2.2"/>
<circle cx="388.35" cy="125.32" r="2.2"/>
<circle cx="388.72" cy="125.04" r="2.2"/>
<circle cx="389.09" cy="124.79" r="2.2"/>
<circle cx="389.46" cy="124.58" r="2.2"/>
<circle cx="389.83" cy="124.40" r="2.2"/>
<circle cx="390.20" cy="124.25" r="2.2"/>
<circle cx="390.56" cy="124.12" r="2.2"/>
<circle cx="390.92" cy="124.01" r="2.2"/>
<circle cx="391.28" cy="123.91" r="2.2"/>
<circle cx="391.64" cy="123.81" r="2.2"/>
<circle cx="392.00" cy="123.71" r="2.2"/>
<circle cx="392.35" cy="123.58" r="2.2"/>
<circle cx="392.70" cy="123.43" r="2.2"/>
<circle cx="393.06" cy="123.26" r="2.2"/>
<circle cx="393.40" cy="123.06" r="2.2"/>
<circle cx="393.75" cy="122.83" r="2.2"/>
<circle cx="394.09" cy="122.60" r="2.2"/>
<circle cx="394.44" cy="122.35" r="2.2"/>
<circle cx="394.78" cy="122.09" r="2.2"/>
<circle cx="395.12" cy="121.84" r="2.2"/>
<circle cx="395.46" cy="121.59" r="2.2"/>
<circle cx="395.79" cy="121.35" r="2.2"/>
<circle cx="396.12" cy="121.12" r="2.2"/>
<circle cx="396.46" cy="120.91" r="2.2"/>
<circle cx="396.79" cy="120.71" r="2.2"/>
<circle cx="397.12" cy="120.53" r="2.2"/>
<circle cx="397.44" cy="120.36" r="2.2"/>
<circle cx="397.77" cy="120.19" r="2.2"/>
<circle cx="398.09" cy="120.04" r="2.2"/>
<circle cx="398.42" cy="119.89" r="2.2"/>
<circle cx="398.74" cy="119.73" r="2.2"/>
<circle cx="399.06" cy="119.57" r="2.2"/>
<circle cx="399.37" cy="119.41" r="2.2"/>
<circle cx="399.69" cy="119.24" r="2.2"/>
<circle cx="400.00" cy="119.06" r="2.2"/>
<circle cx="400.32" cy="118.87" r="2.2"/>
<circle cx="400.63" cy="118.67" r="2.2"/>
<circle cx="400.94" cy="118.47" r="2.2"/>
<circle cx="401.25" cy="118.26" r="2.2"/>
<circle cx="285.46" cy="239.11" r="2.2"/>
<circle cx="287.28" cy="238.27" r="2.2"/>
<circle cx="289.05" cy="237.53" r="2.2"/>
<circle cx="290.77" cy="237.24" r="2.2"/>
<circle cx="292.45" cy="235.92" r="2.2"/>
<circle cx="294.09" cy="234.93" r="2.2"/>
<circle cx="295.68" cy="234.19" r="2.2"/>
<circle cx="297.24" cy="233.39" r="2.2"/>
<circle cx="298.76" cy="232.96" r="2.2"/>
<circle cx="300.25" cy="231.63" r="2.2"/>
<circle cx="301.70" cy="230.66" r="2.2"/>
<circle cx="303.12" cy="230.07" r="2.2"/>
<circle cx="304.51" cy="229.82" r="2.2"/>
<circle cx="305.87" cy="229.65" r="2.2"/>
<circle cx="307.20" cy="229.35" r="2.2"/>
<circle cx="308.51" cy="228.91" r="2.2"/>
<circle cx="309.79" cy="228.52" r="2.2"/>
<circle cx="311.04" cy="228.29" r="2.2"/>
<circle cx="312.27" cy="228.17" r="2.2"/>
<circle cx="313.48" cy="227.95" r="2.2"/>
<circle cx="314.67" cy="227.47" r="2.2"/>
<circle cx="315.83" cy="226.72" r="2.2"/>
<circle cx="316.97" cy="225.85" r="2.2"/>
<circle cx="318.10" cy="225.06" r="2.2"/>
<circle cx="319.20" cy="224.43" r="2.2"/>
<circle cx="320.29" cy="223.93" r="2.2"/>
<circle cx="321.36" cy="223.44" r="2.2"/>
<circle cx="322.41" cy="222.87" r="2.2"/>
<circle cx="323.44" cy="222.18" r="2.2"/>
<circle cx="324.46" cy="221.44" r="2.2"/>
<circle cx="325.46" cy="220.78" r="2.2"/>
<circle cx="326.45" cy="220.27" r="2.2"/>
<circle cx="327.42" cy="219.87" r="2.2"/>
<circle cx="328.38" cy="219.51" r="2.2"/>
<circle cx="329.32" cy="219.08" r="2.2"/>
<circle cx="330.25" cy="218.57" r="2.2"/>
<circle cx="331.17" cy="217.99" r="2.2"/>
<circle cx="332.07" cy="217.43" r="2.2"/>
<circle cx="332.96" cy="216.96" r="2.2"/>
<circle cx="333.84" cy="216.64" r="2.2"/>
<circle cx="334.71" cy="216.46" r="2.2"/>
<circle cx="335.57" cy="216.36" r="2.2"/>
<circle cx="336.41" cy="216.26" r="2.2"/>
<circle cx="337.24" cy="216.07" r="2.2"/>
<circle cx="338.07" cy="215.75" r="2.2"/>
<circle cx="338.88" cy="215.31" r="2.2"/>
<circle cx="339.68" cy="214.80" r="2.2"/>
<circle cx="340.48" cy="214.27" r="2.2"/>
<circle cx="341.26" cy="213.77" r="2.2"/>
<circle cx="342.03" cy="213.34" r="2.2"/>
<circle cx="342.80" cy="212.98" r="2.2"/>
<circle cx="343.55" cy="212.66" r="2.2"/>
<circle cx="344.30" cy="212.35" r="2.2"/>
<circle cx="345.04" cy="212.01" r="2.2"/>
<circle cx="345.77" cy="211.64" r="2.2"/>
<circle cx="346.49" cy="211.25" r="2.2"/>
<circle cx="347.21" cy="210.86" r="2.2"/>
<circle cx="347.91" cy="210.51" r="2.2"/>
<circle cx="348.61" cy="210.20" r="2.2"/>
<circle cx="349.30" cy="209.96" r="2.2"/>
<circle cx="349.99" cy="209.78" r="2.2"/>
<circle cx="350.66" cy="209.61" r="2.2"/>
<circle cx="351.33" cy="209.43" r="2.2"/>
<circle cx="351.99" cy="209.19" r="2.2"/>
<circle cx="352.65" cy="208.87" r="2.2"/>
<circle cx="353.30" cy="208.47" r="2.2"/>
<circle cx="353.94" cy="207.99" r="2.2"/>
<circle cx="354.58" cy="207.45" r="2.2"/>
<circle cx="355.21" cy="206.90" r="2.2"/>
<circle cx="355.83" cy="206.36" r="2.2"/>
<circle cx="356.45" cy="205.87" r="2.2"/>
<circle cx="357.07" cy="205.44" r="2.2"/>
<circle cx="357.67" cy="205.08" r="2.2"/>
<circle cx="358.27" cy="204.78" r="2.2"/>
<circle cx="358.87" cy="204.51" r="2.2"/>
<circle cx="359.46" cy="204.25" r="2.2"/>
<circle cx="360.04" cy="203.98" r="2.2"/>
<circle cx="360.62" cy="203.68" r="2.2"/>
<circle cx="361.20" cy="203.34" r="2.2"/>
<circle cx="361.77" cy="202.97" r="2.2"/>
<circle cx="362.33" cy="202.57" r="2.2"/>
<circle cx="362.89" cy="202.16" r="2.2"/>
<circle cx="363.45" cy="201.77" r="2.2"/>
<circle cx="364.00" cy="201.40" r="2.2"/>
<circle cx="364.54" cy="201.08" r="2.2"/>
<circle cx="365.08" cy="200.79" r="2.2"/>
<circle cx="365.62" cy="200.56" r="2.2"/>
<circle cx="366.15" cy="200.35" r="2.2"/>
<circle cx="366.68" cy="200.16" r="2.2"/>
<circle cx="367.20" cy="199.98" r="2.2"/>
<circle cx="367.72" cy="199.80" r="2.2"/>
<circle cx="368.24" cy="199.59" r="2.2"/>
<circle cx="368.75" cy="199.37" r="2.2"/>
<circle cx="369.25" cy="199.13" r="2.2"/>
<circle cx="369.76" cy="198.88" r="2.2"/>
<circle cx="370.25" cy="198.63" r="2.2"/>
<circle cx="370.75" cy="198.40" r="2.2"/>
<circle cx="371.24" cy="198.18" r="2.2"/>
<circle cx="371.73" cy="197.99" r="2.2"/>
<circle cx="372.21" cy="197.84" r="2.2"/>
<circle cx="372.69" cy="197.71" r="2.2"/>
<circle cx="373.17" cy="197.62" r="2.2"/>
<circle cx="373.64" cy="197.54" r="2.2"/>
<circle cx="374.11" cy="197.47" r="2.2"/>
<circle cx="374.58" cy="197.38" r="2.2"/>
<circle cx="375.04" cy="197.28" r="2.2"/>
<circle cx="375.50" cy="197.14" r="2.2"/>
<circle cx="375.96" cy="196.97" r="2.2"/>
<circle cx="376.41" cy="196.75" r="2.2"/>
<circle cx="376.86" cy="196.50" r="2.2"/>
<circle cx="377.31" cy="196.21" r="2.2"/>
<circle cx="377.76" cy="195.90" r="2.2"/>
<circle cx="378.20" cy="195.58" r="2.2"/>
<circle cx="378.63" cy="195.25" r="2.2"/>
<circle cx="379.07" cy="194.94" r="2.2"/>
<circle cx="379.50" cy="194.64" r="2.2"/>
<circle cx="379.93" cy="194.37" r="2.2"/>
<circle cx="380.36" cy="194.12" r="2.2"/>
<circle cx="380.78" cy="193.90" r="2.2"/>
<circle cx="381.20" cy="193.71" r="2.2"/>
<circle cx="381.62" cy="193.52" r="2.2"/>
<circle cx="382.04" cy="193.35" r="2.2"/>
<circle cx="382.45" cy="193.18" r="2.2"/>
<circle cx="382.86" cy="193.00" r="2.2"/>
<circle cx="383.27" cy="192.81" r="2.2"/>
<circle cx="383.67" cy="192.59" r="2.2"/>
<circle cx="384.08" cy="192.36" r="2.2"/>
<circle cx="384.48" cy="192.10" r="2.2"/>
<circle cx="384.87" cy="191.82" r="2.2"/>
<circle cx="385.27" cy="191.53" r="2.2"/>
<circle cx="385.66" cy="191.23" r="2.2"/>
<circle cx="386.05" cy="190.93" r="2.2"/>
<circle cx="386.44" cy="190.64" r="2.2"/>
<circle cx="386.83" cy="190.35" r="2.2"/>
<circle cx="387.21" cy="190.09" r="2.2"/>
<circle cx="387.59" cy="189.85" r="2.2"/>
<circle cx="387.97" cy="189.63" r="2.2"/>
<circle cx="388.35" cy="189.44" r="2.2"/>
<circle cx="388.72" cy="189.27" r="2.2"/>
<circle cx="389.09" cy="189.13" r="2.2"/>
<circle cx="389.46" cy="189.00" r="2.2"/>
<circle cx="389.83" cy="188.89" r="2.2"/>
<circle cx="390.20" cy="188.78" r="2.2"/>
<circle cx="390.56" cy="188.67" r="2.2"/>
<circle cx="390.92" cy="188.56" r="2.2"/>
<circle cx="391.28" cy="188.45" r="2.2"/>
<circle cx="391.64" cy="188.32" r="2.2"/>
<circle cx="392.00" cy="188.18" r="2.2"/>
<circle cx="392.35" cy="188.03" r="2.2"/>
<circle cx="392.70" cy="187.87" r="2.2"/>
<circle cx="393.06" cy="187.71" r="2.2"/>
<circle cx="393.40" cy="187.53" r="2.2"/>
<circle cx="393.75" cy="187.36" r="2.2"/>
<circle cx="394.09" cy="187.19" r="2.2"/>
<circle cx="394.44" cy="187.03" r="2.2"/>
<circle cx="394.78" cy="186.87" r="2.2"/>
<circle cx="395.12" cy="186.71" r="2.2"/>
<circle cx="395.46" cy="186.56" r="2.2"/>
<circle cx="395.79" cy="186.41" r="2.2"/>
<circle cx="396.12" cy="186.26" r="2.2"/>
<circle cx="396.46" cy="186.11" r="2.2"/>
<circle cx="396.79" cy="185.96" r="2.2"/>
<circle cx="397.12" cy="185.80" r="2.2"/>
<circle cx="397.44" cy="185.64" r="2.2"/>
<circle cx="397.77" cy="185.47" r="2.2"/>
<circle cx="398.09" cy="185.29" r="2.2"/>
<circle cx="398.42" cy="185.11" r="2.2"/>
<circle cx="398.74" cy="184.93" r="2.2"/>
<circle cx="399.06" cy="184.74" r="2.2"/>
<circle cx="399.37" cy="184.55" r="2.2"/>
<circle cx="399.69" cy="184.35" r="2.2"/>
<circle cx="400.00" cy="184.17" r="2.2"/>
<circle cx="400.32" cy="183.98" r="2.2"/>
<circle cx="400.63" cy="183.80" r="2.2"/>
<circle cx="400.94" cy="183.63" r="2.2"/>
<circle cx="401.25" cy="183.47" r="2.2"/>
<line x1="114.1" y1="237.4" x2="398" y2="19.7" stroke="#ff1414" stroke-width="1.05"/>
<line x1="144.3" y1="237.4" x2="398" y2="70.1" stroke="#ff1414" stroke-width="1.05"/>
<line x1="177.4" y1="237.4" x2="398" y2="96.8" stroke="#ff1414" stroke-width="1.05"/>
<line x1="204.8" y1="237.4" x2="398" y2="120.9" stroke="#ff1414" stroke-width="1.05"/>
<line x1="294" y1="237.4" x2="398" y2="185.1" stroke="#ff1414" stroke-width="1.05"/>
</g>
<rect x="48.5" y="15.6" width="359.3" height="221.8" fill="none" stroke="#6a6a6a" stroke-width="0.8"/>
<path d="M55.70 237.4v-4.5M55.70 15.6v4.5M100.49 237.4v-4.5M100.49 15.6v4.5M159.71 237.4v-4.5M159.71 15.6v4.5M204.50 237.4v-4.5M204.50 15.6v4.5M249.29 237.4v-4.5M249.29 15.6v4.5M308.51 237.4v-4.5M308.51 15.6v4.5M353.30 237.4v-4.5M353.30 15.6v4.5M398.09 237.4v-4.5M398.09 15.6v4.5M126.70 237.4v-2.1M126.70 15.6v2.1M145.29 237.4v-2.1M145.29 15.6v2.1M171.49 237.4v-2.1M171.49 15.6v2.1M181.45 237.4v-2.1M181.45 15.6v2.1M190.08 237.4v-2.1M190.08 15.6v2.1M197.69 237.4v-2.1M197.69 15.6v2.1M275.50 237.4v-2.1M275.50 15.6v2.1M294.09 237.4v-2.1M294.09 15.6v2.1M320.29 237.4v-2.1M320.29 15.6v2.1M330.25 237.4v-2.1M330.25 15.6v2.1M338.88 237.4v-2.1M338.88 15.6v2.1M346.49 237.4v-2.1M346.49 15.6v2.1M48.5 220.90h4.5M407.8 220.90h-4.5M48.5 182.82h4.5M407.8 182.82h-4.5M48.5 132.48h4.5M407.8 132.48h-4.5M48.5 94.40h4.5M407.8 94.40h-4.5M48.5 56.32h4.5M407.8 56.32h-4.5M48.5 160.54h2.1M407.8 160.54h-2.1M48.5 144.74h2.1M407.8 144.74h-2.1M48.5 122.46h2.1M407.8 122.46h-2.1M48.5 114.00h2.1M407.8 114.00h-2.1M48.5 106.66h2.1M407.8 106.66h-2.1M48.5 100.19h2.1M407.8 100.19h-2.1M48.5 34.04h2.1M407.8 34.04h-2.1M48.5 18.24h2.1M407.8 18.24h-2.1" stroke="#444" stroke-width="0.8" fill="none"/>
<g>
<text transform="translate(44.30,224.90) scale(1,1.07)" text-anchor="end" font-family="Liberation Serif, serif" font-size="12.3" fill="#111">100</text>
<text transform="translate(44.30,186.82) scale(1,1.07)" text-anchor="end" font-family="Liberation Serif, serif" font-size="12.3" fill="#111">200</text>
<text transform="translate(44.30,136.48) scale(1,1.07)" text-anchor="end" font-family="Liberation Serif, serif" font-size="12.3" fill="#111">500</text>
<text transform="translate(44.30,98.40) scale(1,1.07)" text-anchor="end" font-family="Liberation Serif, serif" font-size="12.3" fill="#111">1000</text>
<text transform="translate(44.30,60.32) scale(1,1.07)" text-anchor="end" font-family="Liberation Serif, serif" font-size="12.3" fill="#111">2000</text>
<text transform="translate(38.40,255.90) scale(1,1.07)" text-anchor="start" font-family="Liberation Serif, serif" font-size="12.2" fill="#111">1</text>
<path d="M47.15 249.35L53.05 255.25M47.15 255.25L53.05 249.35" stroke="#111" stroke-width="0.95" fill="none"/>
<text transform="translate(55.80,255.90) scale(1,1.07)" text-anchor="start" font-family="Liberation Serif, serif" font-size="12.2" fill="#111">10</text>
<text transform="translate(68.00,250.50) scale(1,1.07)" text-anchor="start" font-family="Liberation Serif, serif" font-size="8.8" fill="#111">4</text>
<text transform="translate(83.19,255.90) scale(1,1.07)" text-anchor="start" font-family="Liberation Serif, serif" font-size="12.2" fill="#111">2</text>
<path d="M91.94 249.35L97.84 255.25M91.94 255.25L97.84 249.35" stroke="#111" stroke-width="0.95" fill="none"/>
<text transform="translate(100.59,255.90) scale(1,1.07)" text-anchor="start" font-family="Liberation Serif, serif" font-size="12.2" fill="#111">10</text>
<text transform="translate(112.79,250.50) scale(1,1.07)" text-anchor="start" font-family="Liberation Serif, serif" font-size="8.8" fill="#111">4</text>
<text transform="translate(142.41,255.90) scale(1,1.07)" text-anchor="start" font-family="Liberation Serif, serif" font-size="12.2" fill="#111">5</text>
<path d="M151.16 249.35L157.06 255.25M151.16 255.25L157.06 249.35" stroke="#111" stroke-width="0.95" fill="none"/>
<text transform="translate(159.81,255.90) scale(1,1.07)" text-anchor="start" font-family="Liberation Serif, serif" font-size="12.2" fill="#111">10</text>
<text transform="translate(172.01,250.50) scale(1,1.07)" text-anchor="start" font-family="Liberation Serif, serif" font-size="8.8" fill="#111">4</text>
<text transform="translate(187.20,255.90) scale(1,1.07)" text-anchor="start" font-family="Liberation Serif, serif" font-size="12.2" fill="#111">1</text>
<path d="M195.95 249.35L201.85 255.25M195.95 255.25L201.85 249.35" stroke="#111" stroke-width="0.95" fill="none"/>
<text transform="translate(204.60,255.90) scale(1,1.07)" text-anchor="start" font-family="Liberation Serif, serif" font-size="12.2" fill="#111">10</text>
<text transform="translate(216.80,250.50) scale(1,1.07)" text-anchor="start" font-family="Liberation Serif, serif" font-size="8.8" fill="#111">5</text>
<text transform="translate(231.99,255.90) scale(1,1.07)" text-anchor="start" font-family="Liberation Serif, serif" font-size="12.2" fill="#111">2</text>
<path d="M240.74 249.35L246.64 255.25M240.74 255.25L246.64 249.35" stroke="#111" stroke-width="0.95" fill="none"/>
<text transform="translate(249.39,255.90) scale(1,1.07)" text-anchor="start" font-family="Liberation Serif, serif" font-size="12.2" fill="#111">10</text>
<text transform="translate(261.59,250.50) scale(1,1.07)" text-anchor="start" font-family="Liberation Serif, serif" font-size="8.8" fill="#111">5</text>
<text transform="translate(291.21,255.90) scale(1,1.07)" text-anchor="start" font-family="Liberation Serif, serif" font-size="12.2" fill="#111">5</text>
<path d="M299.96 249.35L305.86 255.25M299.96 255.25L305.86 249.35" stroke="#111" stroke-width="0.95" fill="none"/>
<text transform="translate(308.61,255.90) scale(1,1.07)" text-anchor="start" font-family="Liberation Serif, serif" font-size="12.2" fill="#111">10</text>
<text transform="translate(320.81,250.50) scale(1,1.07)" text-anchor="start" font-family="Liberation Serif, serif" font-size="8.8" fill="#111">5</text>
<text transform="translate(336.00,255.90) scale(1,1.07)" text-anchor="start" font-family="Liberation Serif, serif" font-size="12.2" fill="#111">1</text>
<path d="M344.75 249.35L350.65 255.25M344.75 255.25L350.65 249.35" stroke="#111" stroke-width="0.95" fill="none"/>
<text transform="translate(353.40,255.90) scale(1,1.07)" text-anchor="start" font-family="Liberation Serif, serif" font-size="12.2" fill="#111">10</text>
<text transform="translate(365.60,250.50) scale(1,1.07)" text-anchor="start" font-family="Liberation Serif, serif" font-size="8.8" fill="#111">6</text>
<text transform="translate(380.79,255.90) scale(1,1.07)" text-anchor="start" font-family="Liberation Serif, serif" font-size="12.2" fill="#111">2</text>
<path d="M389.54 249.35L395.44 255.25M389.54 255.25L395.44 249.35" stroke="#111" stroke-width="0.95" fill="none"/>
<text transform="translate(398.19,255.90) scale(1,1.07)" text-anchor="start" font-family="Liberation Serif, serif" font-size="12.2" fill="#111">10</text>
<text transform="translate(410.39,250.50) scale(1,1.07)" text-anchor="start" font-family="Liberation Serif, serif" font-size="8.8" fill="#111">6</text>
<text x="228.2" y="275.7" text-anchor="middle" font-family="Liberation Serif, serif" font-size="12" fill="#111">t</text>
<text transform="translate(8.3,134.1) rotate(-90)" font-family="Liberation Serif, serif" font-size="13" font-style="italic" fill="#111">N<tspan font-size="9" dy="2.4" dx="0.4">A</tspan></text>
</g>
</svg>
</body></html>
